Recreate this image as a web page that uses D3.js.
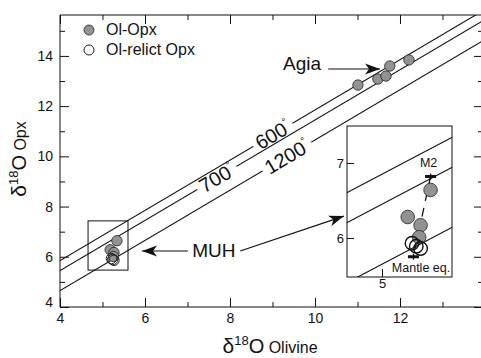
<!DOCTYPE html>
<html>
<head>
<meta charset="utf-8">
<script src="https://cdn.jsdelivr.net/npm/d3@7/dist/d3.min.js"></script>
<style>
body { margin: 0; background: #fff; }
text { font-family: "Liberation Sans", Arial, Helvetica, sans-serif; fill: #111; }
.axis path { display: none; }
.axis line { stroke: #111; }
</style>
</head>
<body>
<div id="chart-area"></div>
<script>
var width = 481;
var height = 358;

var xTicksMajor = [4, 6, 8, 10, 12];
var xTicksMinor = [5, 7, 9, 11, 13];
var yTicksMajor = [4, 6, 8, 10, 12, 14];
var yTicksMinor = [5, 7, 9, 11, 13, 15];

var isoLabels = ["600", "700", "1200"];
var isoDelta = [1.85, 1.45, 0.65];
var isoLabelAt = [9.01, 7.69, 9.34];

var olOpxOl = [11.01, 11.48, 11.67, 11.76, 12.21, 5.34, 5.18, 5.27, 5.26];
var olOpxOpx = [12.84, 13.08, 13.20, 13.60, 13.84, 6.64, 6.28, 6.17, 6.01];
var relictOl = [5.21, 5.27, 5.24];
var relictOpx = [5.93, 5.86, 5.89];

var m2 = [5.34, 6.82];
var mantleEq = [5.22, 5.75];

var muhBoxOl = [4.66, 5.6];
var muhBoxOpx = [5.47, 7.43];
var insetXTicks = [5];
var insetYTicks = [6, 7];

var svg = d3.select("#chart-area")
    .append("svg")
        .attr("width", width)
        .attr("height", height);

var x = d3.scaleLinear().domain([4, 13.953]).range([60, 483]);
var y = d3.scaleLinear().domain([4, 15.63]).range([307, 15]);

var defs = svg.append("defs");
defs.append("clipPath").attr("id", "clipMain")
    .append("rect")
        .attr("x", 60).attr("y", 15)
        .attr("width", 423).attr("height", 292);

defs.append("marker")
    .attr("id", "arrow")
    .attr("viewBox", "0 -6 16 12")
    .attr("refX", 15).attr("refY", 0)
    .attr("markerWidth", 16).attr("markerHeight", 12)
    .attr("markerUnits", "userSpaceOnUse")
    .attr("orient", "auto")
  .append("path")
    .attr("d", "M0,-5.5L15,0L0,5.5L4,0Z")
    .attr("fill", "#111");

// frame
svg.append("path")
    .attr("d", "M483,15H60V307H483")
    .attr("fill", "none")
    .attr("stroke", "#111");

function addAxis(axis, tr, cls) {
    return svg.append("g").attr("class", "axis " + cls)
        .attr("transform", tr)
        .call(axis);
}

addAxis(d3.axisBottom(x).tickValues(xTicksMajor).tickSize(-9).tickPadding(6), "translate(0,307)", "bottom")
    .selectAll("text").attr("font-size", "14px");
addAxis(d3.axisBottom(x).tickValues(xTicksMinor).tickSize(-5).tickFormat(""), "translate(0,307)", "bottom");
addAxis(d3.axisTop(x).tickValues(xTicksMajor).tickSize(-9).tickFormat(""), "translate(0,15)", "top");
addAxis(d3.axisTop(x).tickValues(xTicksMinor).tickSize(-5).tickFormat(""), "translate(0,15)", "top");

var yl = addAxis(d3.axisLeft(y).tickValues(yTicksMajor).tickSize(-9).tickPadding(7), "translate(60,0)", "left");
yl.selectAll("text").attr("font-size", "14px")
    .attr("dy", (d) => { return d === 4 ? "-0.05em" : "0.32em"; });
addAxis(d3.axisLeft(y).tickValues(yTicksMinor).tickSize(-5).tickFormat(""), "translate(60,0)", "left");
addAxis(d3.axisRight(y).tickValues(yTicksMajor).tickSize(-9).tickFormat(""), "translate(483,0)", "right");
addAxis(d3.axisRight(y).tickValues(yTicksMinor).tickSize(-5).tickFormat(""), "translate(483,0)", "right");

// isotherms
var lines = svg.append("g").attr("clip-path", "url(#clipMain)");
lines.selectAll("line.iso")
    .data(isoDelta)
    .enter()
    .append("line")
        .attr("class", "iso")
        .attr("x1", x(3)).attr("y1", (d) => { return y(3 + d); })
        .attr("x2", x(15)).attr("y2", (d) => { return y(15 + d); })
        .attr("stroke", "#111")
        .attr("stroke-width", 1.1);

var angle = Math.atan2(y(1) - y(0), x(1) - x(0)) * 180 / Math.PI;

isoLabels.forEach((lab, i) => {
    var cx = x(isoLabelAt[i]);
    var cy = y(isoLabelAt[i] + isoDelta[i]);
    var g = svg.append("g")
        .attr("transform", "translate(" + cx + "," + cy + ") rotate(" + angle + ")");
    var bg = g.append("rect").attr("fill", "#fff");
    var t = g.append("text")
        .attr("text-anchor", "middle")
        .attr("y", 7)
        .attr("font-size", "20px");
    t.append("tspan").text(lab);
    t.append("tspan").attr("font-size", "10px").attr("dy", -9).text("°");
    var w = t.node().getComputedTextLength();
    bg.attr("x", -w / 2 - 4).attr("y", -6).attr("width", w + 8).attr("height", 12);
});

// MUH box
svg.append("rect")
    .attr("x", x(muhBoxOl[0]))
    .attr("y", y(muhBoxOpx[1]))
    .attr("width", x(muhBoxOl[1]) - x(muhBoxOl[0]))
    .attr("height", y(muhBoxOpx[0]) - y(muhBoxOpx[1]))
    .attr("fill", "none")
    .attr("stroke", "#111");

svg.append("g").selectAll("circle")
    .data(olOpxOl)
    .enter()
    .append("circle")
        .attr("cx", (d) => { return x(d); })
        .attr("cy", (d, i) => { return y(olOpxOpx[i]); })
        .attr("r", 5.2)
        .attr("fill", "#929292")
        .attr("stroke", "#222")
        .attr("stroke-width", 0.8);

svg.append("g").selectAll("circle")
    .data(relictOl)
    .enter()
    .append("circle")
        .attr("cx", (d) => { return x(d); })
        .attr("cy", (d, i) => { return y(relictOpx[i]); })
        .attr("r", 5.2)
        .attr("fill", "none")
        .attr("stroke", "#222")
        .attr("stroke-width", 1);

// legend
var legend = svg.append("g");
legend.append("circle").attr("cx", 89).attr("cy", 30).attr("r", 5)
    .attr("fill", "#929292").attr("stroke", "#222").attr("stroke-width", 0.8);
legend.append("circle").attr("cx", 89).attr("cy", 50).attr("r", 5)
    .attr("fill", "#fff").attr("stroke", "#222").attr("stroke-width", 1);
legend.append("text").attr("x", 106).attr("y", 35).attr("font-size", "16px").text("Ol-Opx");
legend.append("text").attr("x", 106).attr("y", 55).attr("font-size", "16px").text("Ol-relict Opx");

// annotations
svg.append("text").attr("x", x(9.25)).attr("y", y(13.44))
    .attr("font-size", "19px").text("Agia");
svg.append("line")
    .attr("x1", x(10.31)).attr("y1", y(13.48))
    .attr("x2", x(11.53)).attr("y2", y(13.48))
    .attr("stroke", "#111").attr("stroke-width", 1.2)
    .attr("marker-end", "url(#arrow)");

svg.append("text").attr("x", x(7.11)).attr("y", y(5.99))
    .attr("font-size", "19px").text("MUH");
svg.append("line")
    .attr("x1", x(7.01)).attr("y1", y(6.23))
    .attr("x2", x(5.93)).attr("y2", y(6.23))
    .attr("stroke", "#111").attr("stroke-width", 1.2)
    .attr("marker-end", "url(#arrow)");
svg.append("line")
    .attr("x1", x(8.24)).attr("y1", y(6.23))
    .attr("x2", x(10.68)).attr("y2", y(7.62))
    .attr("stroke", "#111").attr("stroke-width", 1.2)
    .attr("marker-end", "url(#arrow)");

// axis titles
var xt = svg.append("text").attr("x", 270).attr("y", 353).attr("text-anchor", "middle");
xt.append("tspan").attr("font-size", "21px").text("δ");
xt.append("tspan").attr("font-size", "13px").attr("dy", -8).text("18");
xt.append("tspan").attr("font-size", "20px").attr("dy", 8).text("O");
xt.append("tspan").attr("font-size", "16px").text(" Olivine");

var yt = svg.append("text")
    .attr("transform", "translate(26,159) rotate(-90)")
    .attr("text-anchor", "middle");
yt.append("tspan").attr("font-size", "21px").text("δ");
yt.append("tspan").attr("font-size", "13px").attr("dy", -8).text("18");
yt.append("tspan").attr("font-size", "20px").attr("dy", 8).text("O");
yt.append("tspan").attr("font-size", "16px").text(" Opx");

// inset
var ix = d3.scaleLinear().domain([4.755, 5.49]).range([347, 452]);
var iy = d3.scaleLinear().domain([5.48, 7.493]).range([277, 126]);

defs.append("clipPath").attr("id", "clipInset")
    .append("rect")
        .attr("x", 347).attr("y", 126)
        .attr("width", 105).attr("height", 151);

var inset = svg.append("g");
inset.append("rect")
    .attr("x", 347).attr("y", 126)
    .attr("width", 105).attr("height", 151)
    .attr("fill", "#fff");

inset.append("g").attr("clip-path", "url(#clipInset)")
    .selectAll("line")
    .data(isoDelta)
    .enter()
    .append("line")
        .attr("x1", ix(4.5)).attr("y1", (d) => { return iy(4.5 + d); })
        .attr("x2", ix(6)).attr("y2", (d) => { return iy(6 + d); })
        .attr("stroke", "#111")
        .attr("stroke-width", 1.1);

inset.append("line")
    .attr("x1", ix(m2[0])).attr("y1", iy(m2[1]))
    .attr("x2", ix(mantleEq[0])).attr("y2", iy(mantleEq[1]))
    .attr("stroke", "#111").attr("stroke-width", 1.3)
    .attr("stroke-dasharray", "9,7");

[m2, mantleEq].forEach((p) => {
    inset.append("line")
        .attr("x1", ix(p[0]) - 5.5).attr("x2", ix(p[0]) + 5.5)
        .attr("y1", iy(p[1])).attr("y2", iy(p[1]))
        .attr("stroke", "#111").attr("stroke-width", 3);
    inset.append("line")
        .attr("x1", ix(p[0])).attr("x2", ix(p[0]))
        .attr("y1", iy(p[1]) - 3).attr("y2", iy(p[1]) + 3)
        .attr("stroke", "#111").attr("stroke-width", 1.3);
});

var inPts = olOpxOl.map((d, i) => { return [d, olOpxOpx[i]]; })
    .filter((p) => { return p[0] > ix.domain()[0] && p[0] < ix.domain()[1] && p[1] > iy.domain()[0] && p[1] < iy.domain()[1]; });

inset.append("g").selectAll("circle")
    .data(inPts)
    .enter()
    .append("circle")
        .attr("cx", (d) => { return ix(d[0]); })
        .attr("cy", (d) => { return iy(d[1]); })
        .attr("r", 6.8)
        .attr("fill", "#929292")
        .attr("stroke", "#222")
        .attr("stroke-width", 0.8);

inset.append("g").selectAll("circle")
    .data(relictOl)
    .enter()
    .append("circle")
        .attr("cx", (d) => { return ix(d); })
        .attr("cy", (d, i) => { return iy(relictOpx[i]); })
        .attr("r", 6.8)
        .attr("fill", "none")
        .attr("stroke", "#111")
        .attr("stroke-width", 1.4);

inset.append("text").attr("x", ix(m2[0]) - 2).attr("y", iy(m2[1]) - 9)
    .attr("text-anchor", "middle").attr("font-size", "12.5px").text("M2");
inset.append("text").attr("x", 421).attr("y", 272)
    .attr("text-anchor", "middle").attr("font-size", "12.5px").text("Mantle eq.");

inset.append("g").attr("class", "axis")
    .attr("transform", "translate(0,277)")
    .call(d3.axisBottom(ix).tickValues(insetXTicks).tickSize(-8).tickPadding(2).tickFormat(d3.format("d")))
    .selectAll("text").attr("font-size", "13px");
inset.append("g").attr("class", "axis")
    .attr("transform", "translate(347,0)")
    .call(d3.axisLeft(iy).tickValues(insetYTicks).tickSize(-7).tickPadding(3).tickFormat(d3.format("d")))
    .selectAll("text").attr("font-size", "13px");

inset.append("rect")
    .attr("x", 347).attr("y", 126)
    .attr("width", 105).attr("height", 151)
    .attr("fill", "none")
    .attr("stroke", "#111");
</script>
</body>
</html>
